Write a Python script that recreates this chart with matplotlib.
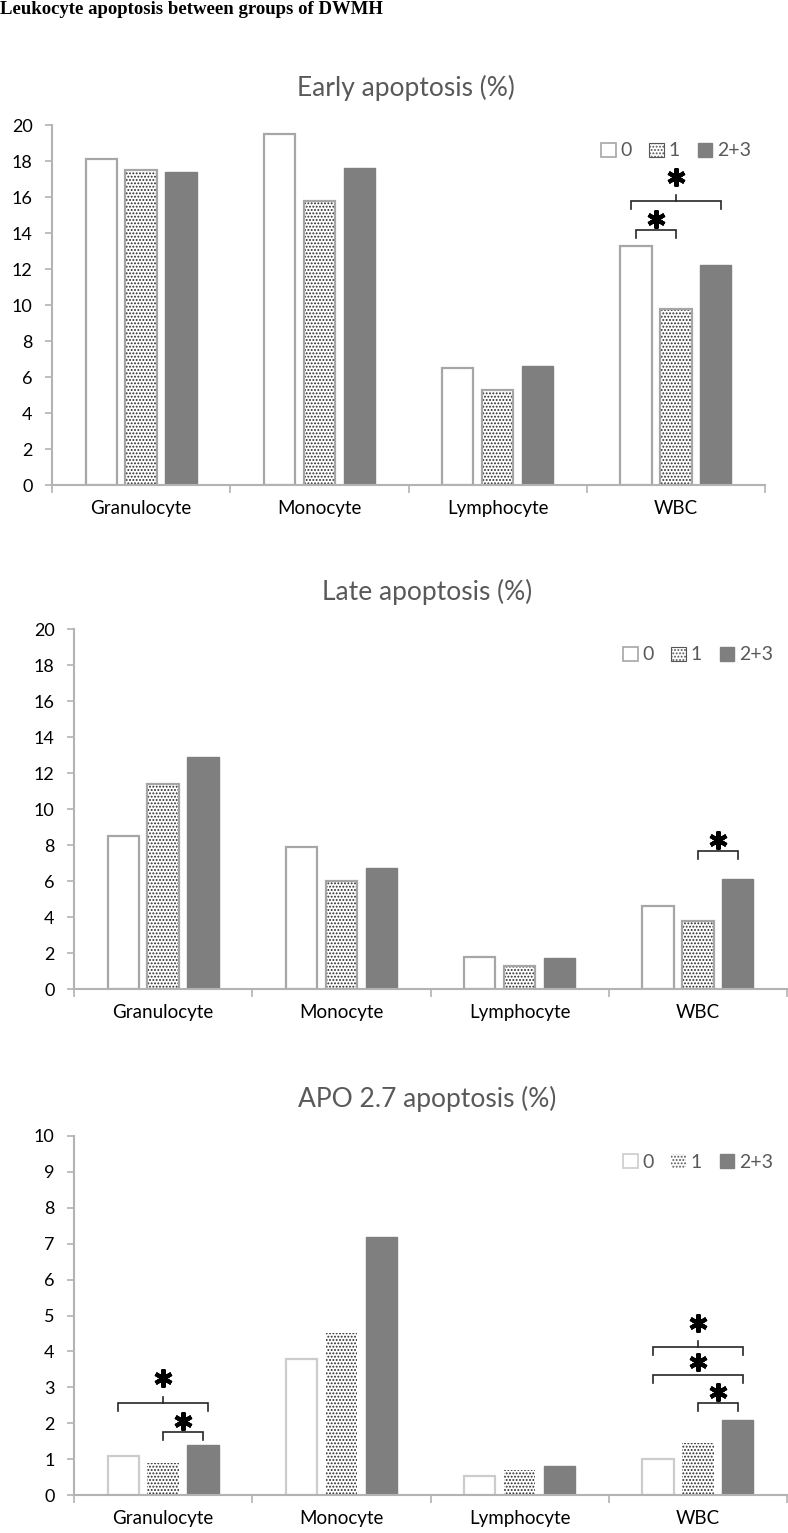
import matplotlib
matplotlib.use("Agg")
import matplotlib.pyplot as plt
from matplotlib.patches import Patch
import numpy as np

plt.rcParams["font.family"] = ["Lato", "DejaVu Sans"]
plt.rcParams["hatch.linewidth"] = 0.9

categories = ["Granulocyte", "Monocyte", "Lymphocyte", "WBC"]
groups = ["0", "1", "2+3"]

early_0 = [18.1, 19.5, 6.5, 13.3]
early_1 = [17.5, 15.8, 5.3, 9.8]
early_23 = [17.4, 17.6, 6.6, 12.2]

late_0 = [8.5, 7.9, 1.8, 4.6]
late_1 = [11.4, 6.0, 1.3, 3.8]
late_23 = [12.9, 6.7, 1.7, 6.1]

apo_0 = [1.1, 3.8, 0.53, 1.0]
apo_1 = [0.9, 4.5, 0.7, 1.45]
apo_23 = [1.4, 7.2, 0.8, 2.1]

# significance brackets: (category, group a, group b, line y, star y, middle tick)
early_sig = [(3, 0, 1, 14.17, 14.8, False), (3, 0, 2, 15.8, 17.1, True)]
late_sig = [(3, 1, 2, 7.67, 8.3, False)]
apo_sig = [(0, 0, 2, 2.56, 3.26, True), (0, 1, 2, 1.76, 2.05, False),
           (3, 0, 2, 4.13, 4.79, True), (3, 0, 2, 3.33, 3.7, False),
           (3, 1, 2, 2.55, 2.88, False)]

W, H = 788, 1533
fig = plt.figure(figsize=(W / 100, H / 100), dpi=100)

fig.text(0.0, 1 - 1 / H, "Leukocyte apoptosis between groups of DWMH",
         family="Liberation Serif", weight="bold", fontsize=13.5,
         ha="left", va="top")

offs = 0.224
width = 0.176
x = np.arange(len(categories))


def panel(left, right, top, bottom, ymax, ystep, title, s0, s1, s23, sigs,
          edge0, edge1, legend_y):
    ax = fig.add_axes([left / W, (H - bottom) / H, (right - left) / W,
                       (bottom - top) / H])
    ax.bar(x - offs, s0, width, color="white", edgecolor=edge0, linewidth=1.6)
    ax.bar(x, s1, width, color="white", edgecolor="#2a2a2a", hatch=".....",
           linewidth=0)
    if edge1:
        ax.bar(x, s1, width, fill=False, edgecolor=edge1, linewidth=1.6)
    ax.bar(x + offs, s23, width, color="#7f7f7f", edgecolor="#7f7f7f",
           linewidth=1.0)

    ax.set_xlim(-0.5, 3.5)
    ax.set_ylim(0, ymax)
    ax.set_yticks(np.arange(0, ymax + 0.01, ystep))
    ax.set_xticks(x)
    ax.set_xticklabels(categories)
    ax.set_xticks(np.arange(-0.5, 3.6, 1), minor=True)
    for s in ["top", "right"]:
        ax.spines[s].set_visible(False)
    for s in ["left", "bottom"]:
        ax.spines[s].set_color("#b3b3b3")
        ax.spines[s].set_linewidth(1.5)
    ax.tick_params(axis="y", direction="out", length=5, width=1.2,
                   color="#b3b3b3", labelsize=13, pad=9, labelcolor="black")
    ax.tick_params(axis="x", which="major", length=0, labelsize=13.5, pad=11,
                   labelcolor="black")
    ax.tick_params(axis="x", which="minor", direction="out", length=6,
                   width=1.2, color="#b3b3b3")

    ppu = (bottom - top) / ymax  # pixels per unit
    for cat, a, b, ly, sy, mid in sigs:
        xa = cat + (a - 1) * offs
        xb = cat + (b - 1) * offs
        if b - a == 2:
            xa -= 0.03
            xb += 0.03
        drop = 8 / ppu
        ax.plot([xa, xa, xb, xb], [ly - drop, ly, ly, ly - drop],
                color="#262626", lw=1.2, solid_joinstyle="miter")
        xm = (xa + xb) / 2
        if mid:
            ax.plot([xm, xm], [ly, ly + 6 / ppu], color="#262626", lw=1.2)
        ax.plot([xm], [sy], marker=(6, 2, 0), markersize=13,
                markeredgewidth=3.0, color="black")

    fig.text((left + right) / 2 / W - 3 / W, 1 - (top - 37) / H, title,
             fontsize=19, color="#595959", ha="center", va="center")

    handles = [Patch(facecolor="white", edgecolor=edge0, linewidth=1.2),
               Patch(facecolor="white", edgecolor="#555555", hatch=".....",
                     linewidth=0.8 if edge1 else 0),
               Patch(facecolor="#7f7f7f", edgecolor="#7f7f7f")]
    leg = ax.legend(handles, groups, ncol=3, frameon=False, fontsize=14,
                    handlelength=0.75, handleheight=0.75, handletextpad=0.25,
                    columnspacing=0.9, loc="center",
                    bbox_to_anchor=((right - 89) / W, 1 - legend_y / H),
                    bbox_transform=fig.transFigure, borderpad=0)
    for t in leg.get_texts():
        t.set_color("#595959")
    return ax


panel(52, 765, 125, 485, 20, 2, "Early apoptosis (%)",
      early_0, early_1, early_23, early_sig, "#a6a6a6", "#a6a6a6", 151)
panel(74, 787, 629, 989, 20, 2, "Late apoptosis (%)",
      late_0, late_1, late_23, late_sig, "#a6a6a6", "#a6a6a6", 655)
panel(74, 787, 1136, 1495, 10, 1, "APO 2.7 apoptosis (%)",
      apo_0, apo_1, apo_23, apo_sig, "#cccccc", None, 1162)

fig.savefig("out.png", dpi=100)
plt.close()
